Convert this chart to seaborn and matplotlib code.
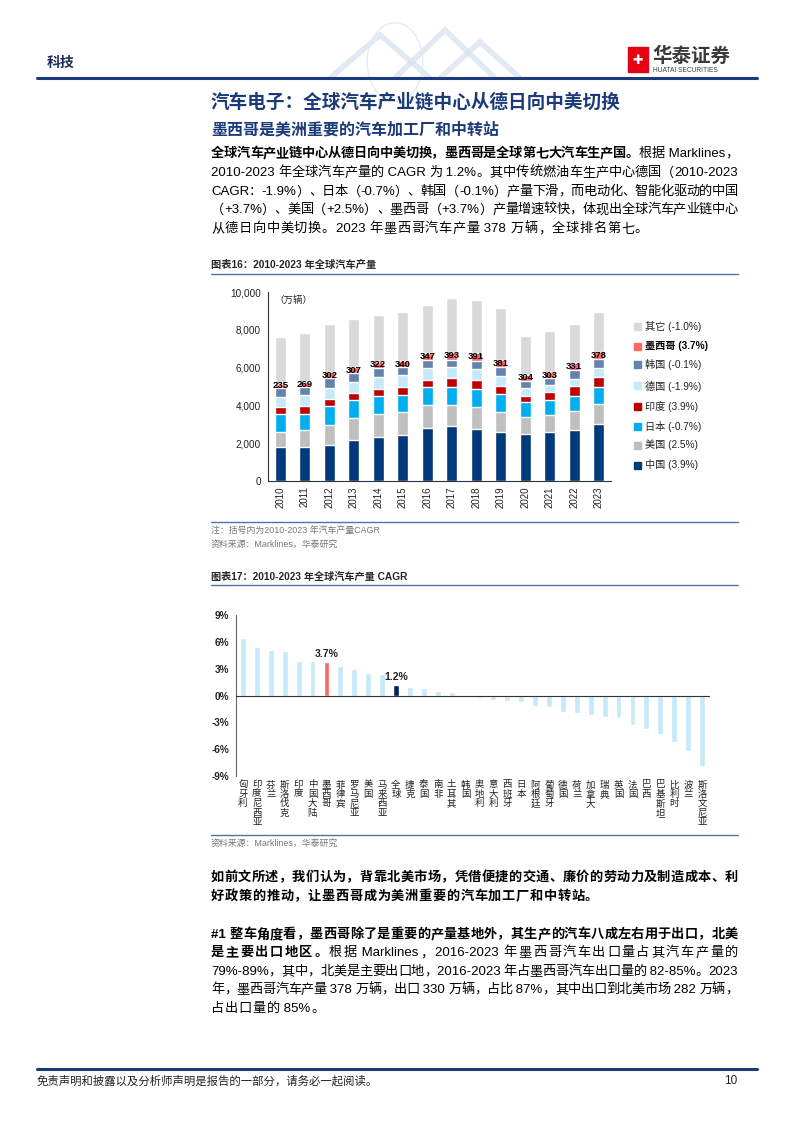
import matplotlib
matplotlib.use('Agg')
import matplotlib.pyplot as plt
import seaborn as sns
import numpy as np
import pandas as pd
from matplotlib.patches import Rectangle, Polygon, Circle
from matplotlib.lines import Line2D

# ---- data: chart 16 (万辆) ----
years = [str(y) for y in range(2010, 2024)]
china = [1805, 1823, 1929, 2177, 2336, 2443, 2797, 2885, 2761, 2567, 2496, 2602, 2673, 2991]
usa = [797, 885, 1045, 1151, 1186, 1221, 1239, 1133, 1151, 1097, 902, 903, 1044, 1098]
japan = [956, 850, 973, 938, 992, 903, 938, 956, 956, 956, 797, 796, 797, 867]
india = [354, 389, 407, 389, 371, 407, 389, 460, 495, 425, 319, 425, 531, 566]
germany = [548, 602, 567, 567, 602, 619, 620, 602, 549, 513, 407, 354, 371, 461]
korea = [460, 425, 531, 495, 496, 425, 442, 389, 460, 460, 389, 372, 478, 478]
mexico = [235, 269, 302, 307, 322, 340, 347, 393, 391, 381, 304, 303, 331, 378]
others = [2474, 2563, 2530, 2525, 2492, 2563, 2538, 2882, 2830, 2734, 2050, 2175, 2059, 2117]

series_names = ['中国', '美国', '日本', '印度', '德国', '韩国', '墨西哥', '其它']
series_cagr = ['(3.9%)', '(2.5%)', '(-0.7%)', '(3.9%)', '(-1.9%)', '(-0.1%)', '(3.7%)', '(-1.0%)']
series_colors = ['#003A7A', '#BFBFBF', '#00AEEF', '#C00000', '#C5E9F9', '#6383AD', '#FF6666', '#D9D9D9']

# ---- data: chart 17 (CAGR %) ----
countries = ['匈牙利', '印度尼西亚', '芬兰', '斯洛伐克', '印度', '中国大陆', '墨西哥', '菲律宾',
             '罗马尼亚', '美国', '马来西亚', '全球', '捷克', '泰国', '南非', '土耳其', '韩国',
             '奥地利', '意大利', '西班牙', '日本', '阿根廷', '葡萄牙', '德国', '荷兰', '加拿大',
             '瑞典', '英国', '法国', '巴西', '巴基斯坦', '比利时', '波兰', '斯洛文尼亚']
cagr = [6.4, 5.4, 5.1, 5.0, 3.9, 3.9, 3.7, 3.3, 3.0, 2.5, 2.4, 1.2, 1.0, 0.85, 0.55, 0.35, -0.1,
        -0.3, -0.5, -0.65, -0.7, -1.15, -1.25, -1.9, -2.0, -2.2, -2.4, -2.55, -3.35, -3.8, -4.25,
        -5.2, -6.15, -7.9]

sns.set_style('white')
plt.rcParams['font.family'] = ['Liberation Sans', 'Noto Sans CJK SC', 'DejaVu Sans']

W, H = 794, 1123
fig = plt.figure(figsize=(W / 100, H / 100), dpi=100)
NAVY = '#1B3A7A'
LINE = '#4F74A8'
BODY = 9.5


def fx(x):
    return x / W


def fy(y):
    return 1 - y / H


def hline(y, x0, x1, color, lw):
    fig.add_artist(Line2D([fx(x0), fx(x1)], [fy(y), fy(y)], color=color, lw=lw,
                          transform=fig.transFigure))


def tokens(s):
    out, buf = [], ''
    for ch in s:
        if ord(ch) < 128:
            buf += ch
        else:
            if buf:
                out.append(buf)
                buf = ''
            out.append(ch)
    if buf:
        out.append(buf)
    return out


renderer = fig.canvas.get_renderer()


def text_line(y, segments, size=BODY, x0=211, x1=738, justify=True, color='black'):
    items = []
    for s, bold in segments:
        for t in tokens(s):
            items.append(fig.text(0, fy(y), t, fontsize=size, va='center', ha='left', color=color,
                                  fontweight='bold' if bold else 'normal'))
    widths = [t.get_window_extent(renderer).width for t in items]
    gap = (x1 - x0 - sum(widths)) / (len(items) - 1) if justify and len(items) > 1 else 0.6
    x = x0
    for t, w in zip(items, widths):
        t.set_x(fx(x))
        x += w + gap


# ---- header ----
for pts in [[(330, 78), (380, 35), (430, 78)], [(395, 78), (445, 30), (495, 78)],
            [(440, 78), (480, 42), (520, 78)]]:
    fig.add_artist(Polygon([(fx(a), fy(b)) for a, b in pts], closed=False, fill=False,
                           edgecolor='#D5E2F0', lw=4, alpha=0.7, transform=fig.transFigure))
fig.add_artist(Circle((fx(395), fy(62)), 0.035, fill=False, edgecolor='#E3EBF4', lw=1.0,
                      transform=fig.transFigure))
fig.text(fx(47), fy(63), '科技', fontsize=10, fontweight='bold', color='#1F2D5A', va='center')
fig.add_artist(Rectangle((fx(628), fy(72)), 20 / W, 25 / H, color='#E60012', transform=fig.transFigure))
fig.text(fx(638), fy(60), '✚', fontsize=9, color='white', ha='center', va='center', family='DejaVu Sans')
fig.text(fx(652), fy(56), '华泰证券', fontsize=14, fontweight='bold', color='#3A3A3A', va='center')
fig.text(fx(653), fy(70), 'HUATAI SECURITIES', fontsize=4.8, color='#3A3A3A', va='center')
hline(78, 37, 757, NAVY, 2.2)

# ---- titles and paragraph ----
fig.text(fx(211), fy(102), '汽车电子：全球汽车产业链中心从德日向中美切换', fontsize=13.4,
         fontweight='bold', color=NAVY, va='center')
fig.text(fx(211), fy(129), '墨西哥是美洲重要的汽车加工厂和中转站', fontsize=11.5,
         fontweight='bold', color=NAVY, va='center')

text_line(154, [('全球汽车产业链中心从德日向中美切换，墨西哥是全球第七大汽车生产国。', True),
                ('根据 Marklines，', False)])
text_line(173, [('2010-2023 年全球汽车产量的 CAGR 为 1.2%。其中传统燃油车生产中心德国（2010-2023', False)])
text_line(192, [('CAGR：-1.9%）、日本（-0.7%）、韩国（-0.1%）产量下滑，而电动化、智能化驱动的中国', False)])
text_line(210, [('（+3.7%）、美国（+2.5%）、墨西哥（+3.7%）产量增速较快，体现出全球汽车产业链中心', False)])
text_line(229, [('从德日向中美切换。2023 年墨西哥汽车产量 378 万辆，全球排名第七。', False)], justify=False)

# ---- chart 16 ----
fig.text(fx(211), fy(265), '图表16：2010-2023 年全球汽车产量', fontsize=7.4, fontweight='bold', va='center')
hline(274, 211, 738, LINE, 1.0)

ax1 = fig.add_axes([fx(268), fy(481), (611 - 268) / W, (481 - 292) / H])
stack = [china, usa, japan, india, germany, korea, mexico, others]
cum = np.cumsum(np.array(stack), axis=0)
df1 = pd.DataFrame({'year': years})
for k in range(len(stack) - 1, -1, -1):
    df1['v'] = cum[k]
    sns.barplot(data=df1, x='year', y='v', color=series_colors[k], width=0.45, saturation=1,
                errorbar=None, ax=ax1)
mex_mid = cum[5] + np.array(mexico) / 2
for i, v in enumerate(mexico):
    ax1.text(i, mex_mid[i], str(v), ha='center', va='center', fontsize=6.8, fontweight='bold', color='black')
ax1.set_xlim(-0.5, 13.5)
ax1.set_ylim(0, 10000)
ax1.set_yticks(range(0, 10001, 2000))
ax1.set_yticklabels([f'{v:,}' for v in range(0, 10001, 2000)], fontsize=7.2, color='#222222')
ax1.set_xticks(range(len(years)))
ax1.set_xticklabels(years, rotation=90, fontsize=7, color='#222222')
ax1.set_xticks(np.arange(-0.5, 14, 1), minor=True)
ax1.tick_params(axis='x', which='major', length=0, pad=4)
ax1.tick_params(axis='x', which='minor', length=4, direction='out', color='#333333', width=0.8)
ax1.tick_params(axis='y', length=3, direction='out', color='#333333', width=0.8, pad=2)
ax1.set_xlabel('')
ax1.set_ylabel('')
for s in ['top', 'right']:
    ax1.spines[s].set_visible(False)
for s in ['left', 'bottom']:
    ax1.spines[s].set_color('#333333')
    ax1.spines[s].set_linewidth(0.8)
ax1.text(0.02, 0.955, '（万辆）', transform=ax1.transAxes, fontsize=6.8, va='center', color='#222222')

leg_y = [465, 445, 426, 407, 386, 365, 346, 326]
for k in range(len(stack)):
    y = leg_y[k]
    fig.add_artist(Rectangle((fx(634), fy(y + 3.5)), 7 / W, 7 / H, color=series_colors[k],
                             transform=fig.transFigure))
    fig.text(fx(645), fy(y), f'{series_names[k]} {series_cagr[k]}', fontsize=7.3, va='center',
             color='black' if k == 6 else '#222222', fontweight='bold' if k == 6 else 'normal')

hline(522, 211, 738, LINE, 1.0)
fig.text(fx(211), fy(530), '注：括号内为2010-2023 年汽车产量CAGR', fontsize=6.4, color='#777777', va='center')
fig.text(fx(211), fy(544), '资料来源：Marklines，华泰研究', fontsize=6.4, color='#777777', va='center')

# ---- chart 17 ----
fig.text(fx(211), fy(577), '图表17：2010-2023 年全球汽车产量 CAGR', fontsize=7.3, fontweight='bold', va='center')
hline(585, 211, 738, LINE, 1.0)

ax2 = fig.add_axes([fx(236), fy(776), (709 - 236) / W, (776 - 615) / H])
bar_colors = ['#C5E9F9'] * len(countries)
bar_colors[countries.index('墨西哥')] = '#FF6666'
bar_colors[countries.index('全球')] = '#002060'
df2 = pd.DataFrame({'country': countries, 'cagr': cagr})
sns.barplot(data=df2, x='country', y='cagr', hue='country', palette=bar_colors, legend=False,
            width=0.42, saturation=1, errorbar=None, ax=ax2)
ax2.set_xlim(-0.5, len(countries) - 0.5)
ax2.set_ylim(-9, 9)
ax2.set_yticks(range(-9, 10, 3))
ax2.set_yticklabels([f'{v}%' for v in range(-9, 10, 3)], fontsize=7.2, fontweight='bold', color='#222222')
ax2.set_xticks(np.arange(-0.5, len(countries), 1))
ax2.set_xticklabels([])
ax2.tick_params(axis='x', length=3, direction='out', color='#333333', width=0.8)
ax2.tick_params(axis='y', length=3, direction='out', color='#333333', width=0.8, pad=2)
ax2.set_xlabel('')
ax2.set_ylabel('')
ax2.spines['bottom'].set_position(('data', 0))
for s in ['top', 'right']:
    ax2.spines[s].set_visible(False)
ax2.spines['left'].set_color('#666666')
ax2.spines['bottom'].set_color('#333333')
for s in ['left', 'bottom']:
    ax2.spines[s].set_linewidth(0.8)
for name in ['墨西哥', '全球']:
    i = countries.index(name)
    ax2.text(i, cagr[i] + 0.35, f'{cagr[i]:.1f}%', ha='center', va='bottom', fontsize=7.5,
             fontweight='bold', color='#222222')
for i, name in enumerate(countries):
    ax2.text(i, -9.5, '\n'.join(name), ha='center', va='top', fontsize=6.8, linespacing=1.05,
             color='#222222', clip_on=False)

hline(835, 211, 738, LINE, 1.0)
fig.text(fx(211), fy(843), '资料来源：Marklines，华泰研究', fontsize=6.4, color='#777777', va='center')

# ---- following paragraphs ----
text_line(878, [('如前文所述，我们认为，背靠北美市场，凭借便捷的交通、廉价的劳动力及制造成本、利', True)])
text_line(897, [('好政策的推动，让墨西哥成为美洲重要的汽车加工厂和中转站。', True)], justify=False)
text_line(935, [('#1 整车角度看，墨西哥除了是重要的产量基地外，其生产的汽车八成左右用于出口，北美', True)])
text_line(953, [('是主要出口地区。', True), ('根据 Marklines，2016-2023 年墨西哥汽车出口量占其汽车产量的', False)])
text_line(972, [('79%-89%，其中，北美是主要出口地，2016-2023 年占墨西哥汽车出口量的 82-85%。2023', False)])
text_line(990, [('年，墨西哥汽车产量 378 万辆，出口 330 万辆，占比 87%，其中出口到北美市场 282 万辆，', False)])
text_line(1009, [('占出口量的 85%。', False)], justify=False)

# ---- footer ----
hline(1069, 37, 757, NAVY, 2.2)
fig.text(fx(37), fy(1081), '免责声明和披露以及分析师声明是报告的一部分，请务必一起阅读。', fontsize=8.2,
         style='italic', va='center', color='#222222')
fig.text(fx(737), fy(1081), '10', fontsize=8.5, ha='right', va='center', color='#222222')

fig.savefig('out.png', dpi=100)
